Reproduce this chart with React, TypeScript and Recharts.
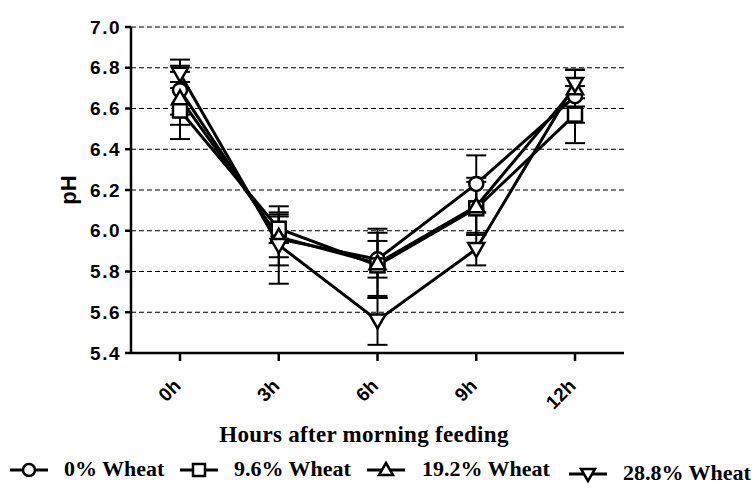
import React from "react";
import { LineChart, Line, XAxis, YAxis, CartesianGrid, ErrorBar } from "recharts";

const hours = ["0h", "3h", "6h", "9h", "12h"];
const phTicks = [5.4, 5.6, 5.8, 6.0, 6.2, 6.4, 6.6, 6.8, 7.0];

const wheat0 = [6.69, 5.96, 5.86, 6.23, 6.66];
const wheat0Err = [0.12, 0.13, 0.09, 0.14, 0.13];
const wheat96 = [6.59, 6.01, 5.83, 6.11, 6.57];
const wheat96Err = [0.14, 0.07, 0.16, 0.13, 0.14];
const wheat192 = [6.65, 5.97, 5.84, 6.12, 6.7];
const wheat192Err = [0.13, 0.1, 0.17, 0.14, 0.09];
const wheat288 = [6.77, 5.93, 5.56, 5.91, 6.72];
const wheat288Err = [0.07, 0.19, 0.12, 0.08, 0.07];

const seriesNames = ["0% Wheat", "9.6% Wheat", "19.2% Wheat", "28.8% Wheat"];
const shapes = ["circle", "square", "triangle", "down"];

const data = hours.map((h, i) => ({
  hour: h,
  w0: wheat0[i], e0: wheat0Err[i],
  w1: wheat96[i], e1: wheat96Err[i],
  w2: wheat192[i], e2: wheat192Err[i],
  w3: wheat288[i], e3: wheat288Err[i],
}));

const sans = "'Liberation Sans', Arial, sans-serif";
const serif = "'Liberation Serif', 'Times New Roman', serif";

function Marker({ shape, cx, cy, s = 7, sw = 2.5 }: any) {
  if (cx == null || cy == null) return null;
  const common = { fill: "#fff", stroke: "#000", strokeWidth: sw };
  if (shape === "circle") return <circle cx={cx} cy={cy} r={s} {...common} />;
  if (shape === "square")
    return <rect x={cx - s} y={cy - s} width={s * 2} height={s * 2} {...common} />;
  if (shape === "triangle")
    return <polygon points={`${cx},${cy - s - 1} ${cx - s - 1},${cy + s - 1} ${cx + s + 1},${cy + s - 1}`} {...common} />;
  return <polygon points={`${cx},${cy + s + 1} ${cx - s - 1},${cy - s + 1} ${cx + s + 1},${cy - s + 1}`} {...common} />;
}

function HourTick({ x, y, payload }: any) {
  const px = x + 2;
  const py = y + 24;
  return (
    <text x={px} y={py} textAnchor="end" transform={`rotate(-45, ${px}, ${py})`}
      fontFamily={sans} fontWeight="bold" fontSize={19} fill="#000">
      {payload.value}
    </text>
  );
}

// marker start / text start for each legend item
const legendMarkX = [10, 180, 367, 569];
const legendTextX = [64, 234, 422, 623];

function LegendRow() {
  return (
    <div style={{ position: "absolute", left: 0, top: 0, width: 755, height: 488, pointerEvents: "none", fontFamily: serif, fontWeight: "bold", fontSize: 22, color: "#000" }}>
      {seriesNames.map((name, i) => {
        const top = i === 3 ? 460 : 456;
        return (
          <React.Fragment key={name}>
            <svg width={38} height={24} style={{ position: "absolute", left: legendMarkX[i], top: top + 2 }}>
              <line x1={0} y1={12} x2={38} y2={12} stroke="#000" strokeWidth={3} />
              <Marker shape={shapes[i]} cx={19} cy={12} s={6} sw={2.5} />
            </svg>
            <span style={{ position: "absolute", left: legendTextX[i], top, whiteSpace: "nowrap", lineHeight: "26px" }}>{name}</span>
          </React.Fragment>
        );
      })}
    </div>
  );
}

export default function App() {
  const keys = ["w0", "w1", "w2", "w3"];
  const errs = ["e0", "e1", "e2", "e3"];
  return (
    <div style={{ position: "absolute", left: 0, top: 0, width: 755, height: 488, background: "#fff", overflow: "hidden" }}>
      <LineChart width={755} height={488} data={data} margin={{ top: 27, right: 131, left: 0, bottom: 95 }}>
        <CartesianGrid vertical={false} stroke="#000" strokeDasharray="5 3" strokeWidth={1} />
        <XAxis
          dataKey="hour"
          height={40}
          padding={{ left: 49, right: 49 }}
          stroke="#000"
          strokeWidth={2.5}
          tickSize={8}
          tick={<HourTick />}
          interval={0}
          label={() => (
            <text x={364} y={442} textAnchor="middle" fontFamily={serif} fontWeight="bold" fontSize={23} letterSpacing={0.3} fill="#000">
              Hours after morning feeding
            </text>
          )}
        />
        <YAxis
          width={131}
          domain={[5.4, 7.0]}
          ticks={phTicks}
          interval={0}
          stroke="#000"
          strokeWidth={2.5}
          tickSize={6}
          tickMargin={4}
          tick={{ fill: "#000", fontFamily: sans, fontWeight: "bold", fontSize: 19, letterSpacing: 1.5 }}
          tickFormatter={(v: number) => v.toFixed(1)}
          label={() => (
            <text x={76} y={190} textAnchor="middle" transform="rotate(-90, 76, 190)"
              fontFamily={sans} fontWeight="bold" fontSize={22} fill="#000">
              pH
            </text>
          )}
        />
        {keys.map((k, i) => (
          <Line
            key={k}
            dataKey={k}
            name={seriesNames[i]}
            type="linear"
            stroke="#000"
            strokeWidth={3}
            isAnimationActive={false}
            dot={(p: any) => <Marker key={`${k}-${p.index}`} shape={shapes[i]} cx={p.cx} cy={p.cy} />}
          >
            <ErrorBar dataKey={errs[i]} direction="y" width={10} stroke="#000" strokeWidth={2} />
          </Line>
        ))}
      </LineChart>
      <LegendRow />
    </div>
  );
}
